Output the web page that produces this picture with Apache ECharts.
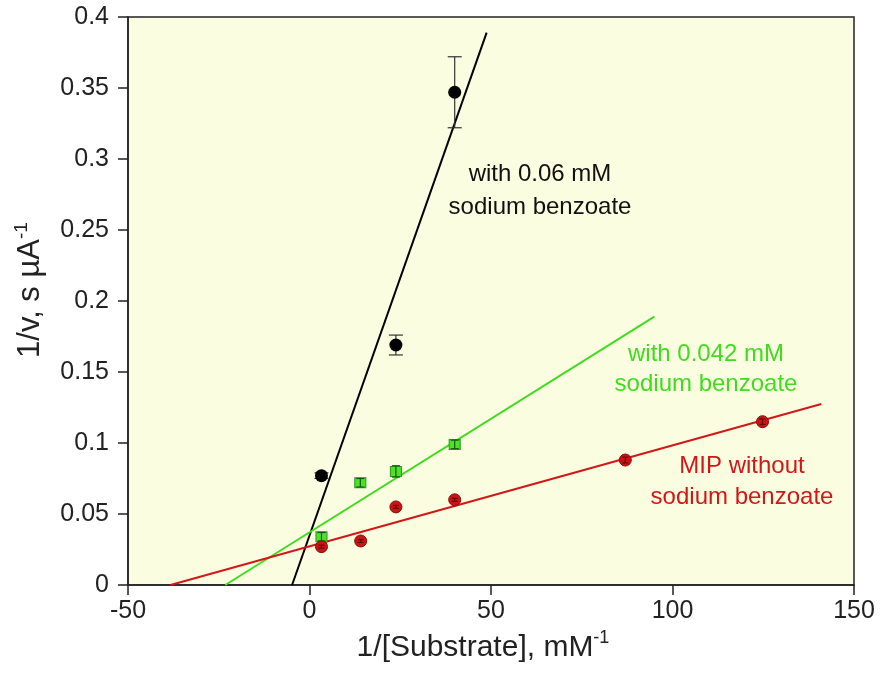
<!DOCTYPE html>
<html>
<head>
<meta charset="utf-8">
<script src="https://cdn.jsdelivr.net/npm/echarts@6/dist/echarts.min.js"></script>
<style>
  html, body { margin: 0; padding: 0; background: #fff; }
  #chart { width: 883px; height: 677px; }
</style>
</head>
<body>
<div id="chart"></div>
<script>
// Lineweaver-Burk data
var xTicks = [-50, 0, 50, 100, 150];
var yTicks = [0, 0.05, 0.1, 0.15, 0.2, 0.25, 0.3, 0.35, 0.4];

// with 0.06 mM sodium benzoate
var blackX = [3.3, 23.8, 40];
var blackY = [0.077, 0.169, 0.347];
var blackErr = [0.002, 0.007, 0.025];
var blackFitX = [-4.8, 48.8];
var blackFitY = [0, 0.389];

// with 0.042 mM sodium benzoate
var greenX = [3.3, 14, 23.8, 40];
var greenY = [0.034, 0.072, 0.08, 0.099];
var greenErr = [0.003, 0.003, 0.004, 0.003];
var greenFitX = [-23.2, 95];
var greenFitY = [0, 0.189];

// MIP without sodium benzoate
var redX = [3.3, 14.1, 23.8, 40, 87, 124.8];
var redY = [0.027, 0.031, 0.055, 0.06, 0.088, 0.115];
var redErr = [0.001, 0.001, 0.001, 0.001, 0.002, 0.002];
var redFitX = [-38.3, 141];
var redFitY = [0, 0.1275];

var BLACK = '#000000', GREEN = '#3fdc1f', RED = '#d21717';

function pairs(xs, ys, es) {
    return xs.map(function (x, i) { return es ? [x, ys[i], es[i]] : [x, ys[i]]; });
}

function errBars(name, xs, ys, es, color, cap, z) {
    return {
        name: name, type: 'custom', z: z,
        data: pairs(xs, ys, es),
        renderItem: function (params, api) {
            var x = api.value(0), y = api.value(1), e = api.value(2);
            var t = api.coord([x, y + e]), b = api.coord([x, y - e]);
            var st = { stroke: color, lineWidth: 1.2 };
            return {
                type: 'group',
                children: [
                    { type: 'line', shape: { x1: t[0], y1: t[1], x2: b[0], y2: b[1] }, style: st },
                    { type: 'line', shape: { x1: t[0] - cap, y1: t[1], x2: t[0] + cap, y2: t[1] }, style: st },
                    { type: 'line', shape: { x1: b[0] - cap, y1: b[1], x2: b[0] + cap, y2: b[1] }, style: st }
                ]
            };
        }
    };
}

var chart = echarts.init(document.getElementById('chart'));
var font = 'Liberation Sans, Arial, sans-serif';

function nameRich(size) {
    return {
        a: { fontSize: size, color: '#222', fontFamily: font, lineHeight: 34, verticalAlign: 'bottom' },
        s: { fontSize: Math.round(size * 0.6), color: '#222', fontFamily: font, lineHeight: 34, verticalAlign: 'top' }
    };
}

var option = {
    backgroundColor: '#ffffff',
    animation: false,
    textStyle: { fontFamily: font },
    grid: {
        left: 128, right: 29, top: 17, bottom: 92,
        show: true, backgroundColor: '#fbfde1', borderColor: '#222', borderWidth: 1.5
    },
    xAxis: {
        type: 'value', min: -50, max: 150, interval: 50,
        name: '{a|1/[Substrate], mM}{s|-1}', nameLocation: 'middle', nameGap: 43,
        nameTextStyle: { rich: nameRich(30), padding: [0, 16, 0, 0] },
        axisLine: { onZero: false, lineStyle: { color: '#222', width: 1.5 } },
        axisTick: { inside: false, length: 10, lineStyle: { color: '#222', width: 1.5 } },
        axisLabel: {
            fontSize: 25, color: '#222', margin: 14,
            formatter: function (v) { return xTicks.indexOf(v) >= 0 ? String(v) : ''; }
        },
        splitLine: { show: false }
    },
    yAxis: {
        type: 'value', min: 0, max: 0.4, interval: 0.05,
        name: '{a|1/v, s \u00b5A}{s|-1}', nameLocation: 'middle', nameGap: 82, nameRotate: 90,
        nameTextStyle: { rich: nameRich(31), padding: [0, 0, 0, 22] },
        axisLine: { onZero: false, lineStyle: { color: '#222', width: 1.5 } },
        axisTick: { inside: false, length: 10, lineStyle: { color: '#222', width: 1.5 } },
        axisLabel: {
            fontSize: 25, color: '#222', margin: 19,
            formatter: function (v) {
                var t = yTicks.filter(function (k) { return Math.abs(k - v) < 1e-9; })[0];
                return t === undefined ? '' : String(t);
            }
        },
        splitLine: { show: false }
    },
    series: [
        { name: 'fit06', type: 'line', data: pairs(blackFitX, blackFitY), symbol: 'none',
          lineStyle: { color: BLACK, width: 2 }, z: 2 },
        { name: 'fit042', type: 'line', data: pairs(greenFitX, greenFitY), symbol: 'none',
          lineStyle: { color: GREEN, width: 2 }, z: 2 },
        { name: 'fitMIP', type: 'line', data: pairs(redFitX, redFitY), symbol: 'none',
          lineStyle: { color: RED, width: 2 }, z: 2 },
        errBars('err06', blackX, blackY, blackErr, '#333', 7, 3),
        { name: 'pts06', type: 'scatter', data: pairs(blackX, blackY), symbol: 'circle', symbolSize: 13,
          itemStyle: { color: '#000', opacity: 1 }, z: 4 },
        { name: 'pts042', type: 'scatter', data: pairs(greenX, greenY), symbol: 'rect', symbolSize: [11, 10],
          itemStyle: { color: '#4fe02c', borderColor: '#2a9a18', borderWidth: 1, opacity: 1 }, z: 4 },
        errBars('err042', greenX, greenY, greenErr, '#145a0c', 4, 5),
        { name: 'ptsMIP', type: 'scatter', data: pairs(redX, redY), symbol: 'circle', symbolSize: 12,
          itemStyle: { color: '#c81414', borderColor: '#8a0c0c', borderWidth: 1, opacity: 1 }, z: 4 },
        errBars('errMIP', redX, redY, redErr, '#6a0808', 3, 5)
    ],
    graphic: [
        { type: 'text',
          style: { x: 540, y: 191, text: 'with 0.06 mM\nsodium benzoate', fill: '#111', font: '24px ' + font,
                   textAlign: 'center', textVerticalAlign: 'middle', lineHeight: 33 } },
        { type: 'text',
          style: { x: 706, y: 369, text: 'with 0.042 mM\nsodium benzoate', fill: GREEN, font: '24px ' + font,
                   textAlign: 'center', textVerticalAlign: 'middle', lineHeight: 30 } },
        { type: 'text',
          style: { x: 742, y: 482, text: 'MIP without\nsodium benzoate', fill: RED, font: '24px ' + font,
                   textAlign: 'center', textVerticalAlign: 'middle', lineHeight: 31 } }
    ]
};

chart.setOption(option);
</script>
</body>
</html>
